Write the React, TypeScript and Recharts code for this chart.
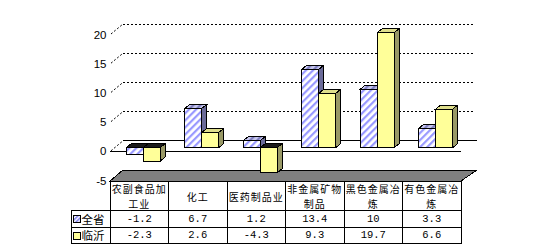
import React from "react";
import { BarChart, Bar, XAxis, YAxis, CartesianGrid } from "recharts";

const categories = ["农副食品加工业", "化工", "医药制品业", "非金属矿物制品", "黑色金属冶炼", "有色金属冶炼"];
const quanSheng = [-1.2, 6.7, 1.2, 13.4, 10, 3.3];
const linYi = [-2.3, 2.6, -4.3, 9.3, 19.7, 6.6];
const yTicks = [-5, 0, 5, 10, 15, 20];
const seriesNames = ["全省", "临沂"];

const data = categories.map((name, i) => ({ name, quanSheng: quanSheng[i], linYi: linYi[i] }));

// 3D offsets relative to the plane the bars stand in
const FX = -4; // front plane
const FY = 4;
const BX = 9; // back wall
const BY = -7;
const DX = 5; // bar depth
const DY = 4;

const COL_W = 58.5;
const HEAD_H = 29;
const ROW_H = 16.5;
const KEY_W = 38.6;
const HEAD_LINE = 14.6;

const cjk = '"Noto Sans CJK SC", "SimSun", sans-serif';
const mono = '"Liberation Mono", "DejaVu Sans Mono", monospace';

const faces = {
  quanSheng: { front: "url(#stripeFront)", side: "#6b6b99", top: "url(#stripeTop)" },
  linYi: { front: "#ffff99", side: "#999966", top: "#dede8c" },
};

const makeBox = (key: "quanSheng" | "linYi") => (props: any) => {
  const { x, y, width, height, value } = props;
  const v = Array.isArray(value) ? value[1] - value[0] : value;
  const top = Math.min(y, y + height);
  const h = Math.abs(height);
  const bottom = top + h;
  const w = width;
  const f = faces[key];
  const topFill = v < 0 ? "#1a1a1a" : f.top;
  return (
    <g stroke="#000" strokeWidth={1} shapeRendering="crispEdges">
      <polygon
        points={`${x},${top} ${x + DX},${top - DY} ${x + w + DX},${top - DY} ${x + w},${top}`}
        fill={topFill}
      />
      <polygon
        points={`${x + w},${top} ${x + w + DX},${top - DY} ${x + w + DX},${bottom - DY} ${x + w},${bottom}`}
        fill={f.side}
      />
      <rect x={x} y={top} width={w} height={h} fill={f.front} />
    </g>
  );
};

// side wall + back wall gridlines, zero plane and the floor
const GridLine = (props: any) => {
  const { x1, x2, y1, index } = props;
  const v = yTicks[index];
  if (v === yTicks[0]) {
    return (
      <polygon
        key={`g${index}`}
        points={`${x1 + FX},${y1 + FY} ${x1 + BX},${y1 + BY} ${x2 + BX + 3},${y1 + BY} ${x2 + FX},${y1 + FY}`}
        fill="#808080"
        stroke="#000"
        strokeWidth={1}
        shapeRendering="crispEdges"
      />
    );
  }
  const zero = v === 0;
  return (
    <g key={`g${index}`} stroke="#000" strokeWidth={1} fill="none">
      <line x1={x1 + FX + 1} y1={y1 + FY - 1} x2={x1 + BX} y2={y1 + BY} strokeDasharray="2 2" />
      <line
        x1={x1 + BX}
        y1={y1 + BY}
        x2={x2 + BX + (zero ? 3 : 0)}
        y2={y1 + BY}
        strokeDasharray={zero ? undefined : "2 2"}
        shapeRendering="crispEdges"
      />
      {zero && (
        <line x1={x1 + FX} y1={y1 + FY} x2={x2 + FX} y2={y1 + FY} shapeRendering="crispEdges" />
      )}
    </g>
  );
};

const YTick = (props: any) => {
  const { x, y, payload } = props;
  return (
    <text
      x={x + FX - 3.5}
      y={y + FY - 0.5}
      textAnchor="end"
      dominantBaseline="central"
      fontFamily='"Liberation Sans", Arial, sans-serif'
      fontSize={11.5}
      fill="#000"
    >
      {payload.value}
    </text>
  );
};

const splitLabel = (s: string) => (s.length > 5 ? [s.slice(0, 5), s.slice(5)] : [s]);

const KeyIcon = ({ i, x, y }: { i: number; x: number; y: number }) => (
  <rect
    x={x}
    y={y}
    width={7}
    height={7}
    fill={i === 0 ? "url(#stripeKey)" : "#ffff99"}
    stroke="#000"
    strokeWidth={1}
    shapeRendering="crispEdges"
  />
);

// data table column under each category
const TableTick = (props: any) => {
  const { x, y, index } = props;
  const i = index ?? 0;
  const left = x - COL_W / 2 + FX;
  const top = y + FY + 0.5;
  const cx = left + COL_W / 2;
  const lines = splitLabel(categories[i]);
  const rows = [quanSheng[i], linYi[i]];
  return (
    <g>
      <g stroke="#000" strokeWidth={1} fill="none" shapeRendering="crispEdges">
        <rect x={left} y={top} width={COL_W} height={HEAD_H + ROW_H * 2} />
        <line x1={left} y1={top + HEAD_H} x2={left + COL_W} y2={top + HEAD_H} />
        <line x1={left} y1={top + HEAD_H + ROW_H} x2={left + COL_W} y2={top + HEAD_H + ROW_H} />
        {i === 0 && (
          <rect x={left - KEY_W} y={top + HEAD_H} width={KEY_W} height={ROW_H * 2} />
        )}
        {i === 0 && (
          <line
            x1={left - KEY_W}
            y1={top + HEAD_H + ROW_H}
            x2={left}
            y2={top + HEAD_H + ROW_H}
          />
        )}
      </g>
      {lines.map((t, k) => (
        <text
          key={k}
          x={cx}
          y={top + HEAD_H / 2 + (lines.length === 1 ? 0 : (k - 0.5) * HEAD_LINE)}
          textAnchor="middle"
          dominantBaseline="central"
          fontFamily={cjk}
          fontSize={10}
          letterSpacing={1}
          fill="#000"
        >
          {t}
        </text>
      ))}
      {rows.map((v, k) => (
        <text
          key={`v${k}`}
          x={cx}
          y={top + HEAD_H + ROW_H * k + ROW_H / 2}
          textAnchor="middle"
          dominantBaseline="central"
          fontFamily={mono}
          fontSize={10.5}
          fill="#000"
        >
          {v}
        </text>
      ))}
      {i === 0 &&
        seriesNames.map((n, k) => (
          <g key={`k${k}`}>
            <KeyIcon i={k} x={left - KEY_W + 2} y={top + HEAD_H + ROW_H * k + 5} />
            <text
              x={left - KEY_W + 10}
              y={top + HEAD_H + ROW_H * k + ROW_H / 2}
              dominantBaseline="central"
              fontFamily={cjk}
              fontSize={11.5}
              fill="#000"
            >
              {n}
            </text>
          </g>
        ))}
    </g>
  );
};

export default function App() {
  return (
    <div style={{ position: "absolute", left: 0, top: 0, width: 554, height: 251, background: "#fff" }}>
      <BarChart
        width={554}
        height={251}
        data={data}
        margin={{ top: 31, right: 89, bottom: 0, left: 0 }}
        barGap={0}
        barSize={17}
      >
        <defs>
          <pattern id="stripeFront" patternUnits="userSpaceOnUse" width={5} height={5} patternTransform="rotate(45)">
            <rect width={5} height={5} fill="#fff" />
            <rect width={2.2} height={5} fill="#9999ff" />
          </pattern>
          <pattern id="stripeTop" patternUnits="userSpaceOnUse" width={5} height={5} patternTransform="rotate(45)">
            <rect width={5} height={5} fill="#c8c8ee" />
            <rect width={2.2} height={5} fill="#7f7fc0" />
          </pattern>
          <pattern id="stripeKey" patternUnits="userSpaceOnUse" width={3} height={3} patternTransform="rotate(45)">
            <rect width={3} height={3} fill="#fff" />
            <rect width={1.5} height={3} fill="#7777ee" />
          </pattern>
        </defs>
        <CartesianGrid vertical={false} horizontal={GridLine} syncWithTicks />
        <XAxis
          dataKey="name"
          height={74}
          axisLine={false}
          tickLine={false}
          tickSize={0}
          tickMargin={0}
          interval={0}
          tick={<TableTick />}
        />
        <YAxis
          width={114}
          domain={[-5, 20]}
          ticks={yTicks}
          interval={0}
          axisLine={false}
          tickLine={false}
          tickSize={0}
          tickMargin={0}
          tick={<YTick />}
        />
        <Bar dataKey="quanSheng" name={seriesNames[0]} isAnimationActive={false} shape={makeBox("quanSheng")} />
        <Bar dataKey="linYi" name={seriesNames[1]} isAnimationActive={false} shape={makeBox("linYi")} />
      </BarChart>
    </div>
  );
}
